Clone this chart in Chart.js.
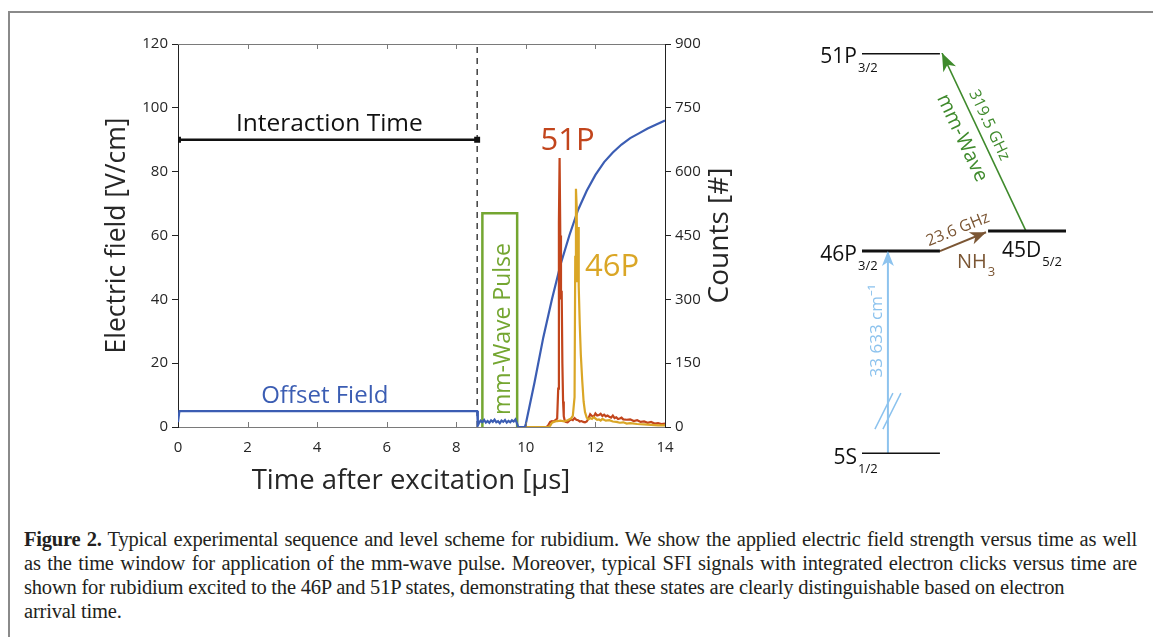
<!DOCTYPE html>
<html>
<head>
<meta charset="utf-8">
<script src="https://cdn.jsdelivr.net/npm/chart.js@4.4.1/dist/chart.umd.min.js"></script>
<style>
  body { margin: 0; background: #fff; width: 1153px; height: 637px; overflow: hidden; position: relative; }
  #frame { position: absolute; left: 8px; top: 11px; width: 1200px; height: 700px; border-top: 2px solid #8a8a8a; border-left: 2px solid #8a8a8a; }
  #seq { position: absolute; left: 0; top: 0; }
  #levels { position: absolute; left: 780px; top: 0; }
  #caption { position: absolute; left: 24px; top: 527px; width: 1113px; font-family: "Liberation Serif", serif; font-size: 20.5px; line-height: 24px; color: #231f20; letter-spacing: -0.2px; }
  #caption div { white-space: nowrap; }
  #caption .j { text-align: justify; text-align-last: justify; white-space: normal; }
</style>
</head>
<body>
<div id="frame"></div>
<canvas id="seq" width="780" height="520"></canvas>
<canvas id="levels" width="373" height="520"></canvas>
<div id="caption">
  <div class="j"><b>Figure 2.</b> Typical experimental sequence and level scheme for rubidium. We show the applied electric field strength versus time as well</div>
  <div class="j">as the time window for application of the mm-wave pulse. Moreover, typical SFI signals with integrated electron clicks versus time are</div>
  <div>shown for rubidium excited to the 46P and 51P states, demonstrating that these states are clearly distinguishable based on electron</div>
  <div>arrival time.</div>
</div>
<script>
// ---- data ----
// electric field (V/cm): offset field, noise while the pulse is on, then the SFI ramp
const fieldT = [0, 0.04, 8.6, 8.62, 8.65, 8.7, 8.75, 8.8, 8.85, 8.9, 8.95, 9.0, 9.05, 9.1, 9.15, 9.2, 9.25, 9.3, 9.35, 9.4,
  9.45, 9.5, 9.55, 9.6, 9.65, 9.7, 9.75, 9.78, 9.97, 10.0, 10.25, 10.5, 10.75, 11.0, 11.25, 11.5, 11.75, 12.0, 12.25,
  12.5, 12.75, 13.0, 13.25, 13.5, 13.75, 14.0];
const fieldV = [1.5, 5, 5, 0.5, 1.2, 2.0, 1.5, 2.2, 1.4, 1.9, 1.3, 2.1, 1.6, 2.3, 1.5, 1.8, 1.2, 2.0, 1.6, 2.2,
  1.4, 1.9, 1.5, 2.1, 1.7, 2.4, 1.0, 0, 0, 1, 14, 28, 40, 51, 60, 68, 74, 79, 83,
  86, 88.5, 90.5, 92, 93.5, 94.8, 96];

// interaction time bar and mm-wave pulse window
const interactT = [0, 8.6];
const interactV = [90, 90];
const pulseT = [8.75, 8.75, 9.75, 9.75];
const pulseV = [0, 67, 67, 0];
const markerT = 8.6;

// SFI counts for 51P
const p51T = [10.0, 10.6, 10.65, 10.7, 10.75, 10.8, 10.85, 10.9, 10.93, 10.95, 10.97, 10.99, 11.01, 11.03, 11.05, 11.07,
  11.09, 11.12, 11.15, 11.2, 11.25, 11.3, 11.35, 11.4, 11.45, 11.5, 11.55, 11.6, 11.65, 11.7, 11.75, 11.8, 11.85,
  11.9, 11.95, 12.0, 12.05, 12.1, 12.15, 12.2, 12.25, 12.3, 12.35, 12.4, 12.45, 12.5, 12.55, 12.6, 12.65, 12.7,
  12.75, 12.8, 12.9, 13.0, 13.1, 13.2, 13.3, 13.4, 13.5, 13.6, 13.7, 13.8, 13.9, 14.0];
const p51V = [0, 0, 5, 12, 14, 13, 16, 20, 90, 480, 632, 450, 300, 320, 150, 60,
  25, 14, 12, 11, 15, 18, 16, 21, 17, 16, 13, 14, 12, 11, 13, 20, 30,
  26, 24, 32, 27, 28, 31, 26, 29, 25, 27, 24, 22, 27, 21, 23, 19, 20,
  22, 18, 17, 18, 14, 16, 12, 13, 10, 12, 8, 9, 7, 8];

// SFI counts for 46P
const p46T = [10.0, 10.65, 10.7, 10.75, 10.8, 10.9, 11.0, 11.1, 11.2, 11.3, 11.35, 11.4, 11.42, 11.44, 11.46, 11.48,
  11.5, 11.52, 11.55, 11.58, 11.62, 11.66, 11.7, 11.75, 11.8, 11.85, 11.9, 11.95, 12.0, 12.05, 12.1, 12.15, 12.2,
  12.3, 12.4, 12.5, 12.6, 12.7, 12.8, 12.9, 13.0, 13.2, 13.4, 13.6, 13.8, 14.0];
const p46V = [0, 0, 3, 10, 12, 14, 15, 13, 16, 20, 26, 70, 400, 560, 520, 340,
  470, 330, 240, 170, 110, 60, 35, 22, 18, 21, 19, 23, 20, 17, 18, 15, 19,
  15, 16, 13, 12, 10, 11, 8, 9, 7, 6, 5, 4, 4];

// level scheme (arbitrary energy axis, not to scale)
const levelNames = ['5S', '46P', '45D', '51P'];
const levelSubs = ['1/2', '3/2', '5/2', '3/2'];
const levelE = [0, 5.06, 5.56, 10];
const levelX0 = [0, 0, 6.18, 0];
const levelX1 = [3.82, 3.82, 10, 3.82];

// transitions: [x0, e0, x1, e1]
const laserLine = [1.27, 0, 1.27, 5.06];
const nh3Line = [3.82, 5.06, 6.08, 5.53];
const mmLine = [8.04, 5.56, 3.92, 10];

const FONT = "'Open Sans', 'Noto Sans', sans-serif";
const BLUE = '#3b5db3', RED = '#c2451c', YELLOW = '#daa626', GREEN = '#74a631';

function pts(xs, ys) {
  return xs.map((v, i) => ({ x: v, y: ys[i] }));
}

function drawText(ctx, s, x, y, color, size, align, rot) {
  ctx.save();
  ctx.translate(x, y);
  if (rot) ctx.rotate(rot);
  ctx.fillStyle = color;
  ctx.font = size + 'px ' + FONT;
  ctx.textAlign = align || 'center';
  ctx.textBaseline = 'middle';
  ctx.fillText(s, 0, 0);
  ctx.restore();
}

// 축 상단 테두리, 안쪽 눈금, 주석 텍스트
const seqDecor = {
  id: 'seqDecor',
  afterDatasetsDraw(chart) {
    const { ctx, chartArea: a, scales: { x, y, y1 } } = chart;
    ctx.save();
    ctx.strokeStyle = '#7a7a7a';
    ctx.lineWidth = 1;
    ctx.beginPath();
    ctx.moveTo(a.left, a.top + 0.5);
    ctx.lineTo(a.right, a.top + 0.5);
    x.ticks.forEach(t => {
      if (t.value <= 0 || t.value >= 14) return;
      const px = Math.round(x.getPixelForValue(t.value)) + 0.5;
      ctx.moveTo(px, a.bottom);
      ctx.lineTo(px, a.bottom - 5);
      ctx.moveTo(px, a.top);
      ctx.lineTo(px, a.top + 5);
    });
    ctx.stroke();
    ctx.restore();

    drawText(ctx, 'Interaction Time', x.getPixelForValue(4.35), y.getPixelForValue(94.8), '#111', 24.5);
    drawText(ctx, 'Offset Field', x.getPixelForValue(4.22), y.getPixelForValue(9.7), BLUE, 24);
    drawText(ctx, 'mm-Wave Pulse', x.getPixelForValue(9.35), y.getPixelForValue(30.7), GREEN, 23, 'center', -Math.PI / 2);
    drawText(ctx, '51P', x.getPixelForValue(11.2), y1.getPixelForValue(672), RED, 31);
    drawText(ctx, '46P', x.getPixelForValue(12.48), y1.getPixelForValue(376), YELLOW, 31);
    drawText(ctx, 'Counts [#]', 720, (a.top + a.bottom) / 2, '#262626', 28, 'center', -Math.PI / 2);
    drawText(ctx, 'Time after excitation [µs]', a.left + 233, 481, '#262626', 27.5);
  }
};

new Chart(document.getElementById('seq'), {
  type: 'scatter',
  data: {
    datasets: [
      { data: pts(p46T, p46V), yAxisID: 'y1', borderColor: YELLOW, borderWidth: 2.2, showLine: true, pointRadius: 0, order: 0 },
      { data: pts(p51T, p51V), yAxisID: 'y1', borderColor: RED, borderWidth: 2.2, showLine: true, pointRadius: 0, order: 1 },
      { data: pts(fieldT, fieldV), yAxisID: 'y', borderColor: BLUE, borderWidth: 2.2, showLine: true, pointRadius: 0, order: 2 },
      { data: pts(pulseT, pulseV), yAxisID: 'y', borderColor: GREEN, borderWidth: 2.5, showLine: true, pointRadius: 0, order: 3 },
      { data: pts(interactT, interactV), yAxisID: 'y', borderColor: '#111', backgroundColor: '#111', borderWidth: 2.4,
        showLine: true, pointRadius: 2.5, pointStyle: 'rect', order: 4 },
      { data: pts([markerT, markerT], [0, 120]), yAxisID: 'y', borderColor: '#111', borderWidth: 1.2, borderDash: [6, 5],
        showLine: true, pointRadius: 0, order: 5 }
    ]
  },
  options: {
    responsive: false,
    animation: false,
    layout: { padding: { top: 44, right: 0, bottom: 0, left: 0 } },
    plugins: { legend: { display: false }, tooltip: { enabled: false } },
    scales: {
      x: {
        type: 'linear', min: 0, max: 14,
        ticks: { stepSize: 2, padding: 12, color: '#262626', font: { family: FONT, size: 15 } },
        grid: { display: false, drawTicks: false },
        border: { color: '#7a7a7a', width: 1 },
        afterFit(s) { s.height = 93; }
      },
      y: {
        position: 'left', min: 0, max: 120,
        ticks: { stepSize: 20, padding: 4, color: '#262626', font: { family: FONT, size: 15 } },
        grid: { drawOnChartArea: false, tickLength: 6, color: '#222' },
        border: { color: '#222', width: 1 },
        title: { display: true, text: 'Electric field [V/cm]', color: '#262626', font: { family: FONT, size: 26.5 }, padding: { top: 102, bottom: 0 } },
        afterFit(s) { s.width = 178; }
      },
      y1: {
        position: 'right', min: 0, max: 900,
        ticks: { stepSize: 150, padding: 4, color: '#262626', font: { family: FONT, size: 15 } },
        grid: { drawOnChartArea: false, tickLength: 6, color: '#222' },
        border: { color: '#222', width: 1 },
        afterFit(s) { s.width = 115; }
      }
    }
  },
  plugins: [seqDecor]
});

// ---- level scheme ----
function arrowHead(ctx, x0, y0, x1, y1, color, len, half) {
  const ang = Math.atan2(y1 - y0, x1 - x0);
  ctx.save();
  ctx.translate(x1, y1);
  ctx.rotate(ang);
  ctx.fillStyle = color;
  ctx.beginPath();
  ctx.moveTo(0, 0);
  ctx.lineTo(-len, -half);
  ctx.lineTo(-len * 0.72, 0);
  ctx.lineTo(-len, half);
  ctx.closePath();
  ctx.fill();
  ctx.restore();
}

function subLabel(ctx, main, sub, x, y, color, size, subSize, align, subDy) {
  ctx.save();
  ctx.font = size + 'px ' + FONT;
  const w = ctx.measureText(main).width;
  const left = align === 'right' ? x - w : x;
  drawText(ctx, main, left, y, color, size, 'left');
  drawText(ctx, sub, left + w + 1, y + subDy, color, subSize, 'left');
  ctx.restore();
}

const LASER = '#8dc3ee', NH3C = '#7b5634', MMC = '#3f8a2c';

const levelDecor = {
  id: 'levelDecor',
  afterDatasetsDraw(chart) {
    const { ctx, scales: { x, y } } = chart;
    const P = (xx, ee) => [x.getPixelForValue(xx), y.getPixelForValue(ee)];

    // 화살표 머리
    const heads = [[laserLine, LASER, 15, 6], [nh3Line, NH3C, 16, 6.5], [mmLine, MMC, 18, 7]];
    heads.forEach(([l, c, len, half]) => {
      const [ax, ay] = P(l[0], l[1]);
      const [bx, by] = P(l[2], l[3]);
      arrowHead(ctx, ax, ay, bx, by, c, len, half);
    });

    // 레이저 화살표의 생략 표시 (//)
    const [lx, sy] = P(laserLine[0], 1.07);
    ctx.save();
    ctx.strokeStyle = LASER;
    ctx.lineWidth = 1.5;
    ctx.beginPath();
    [-4, 4].forEach(dx => {
      ctx.moveTo(lx + dx - 9, sy + 18);
      ctx.lineTo(lx + dx + 9, sy - 18);
    });
    ctx.stroke();
    ctx.restore();

    // 준위 이름
    levelNames.forEach((n, i) => {
      if (levelX0[i] > 0) {
        const [px, py] = P(levelX0[i] + 0.68, levelE[i]);
        subLabel(ctx, n, levelSubs[i], px, py + 20, '#111', 21, 13, 'left', 11);
      } else {
        const [px, py] = P(levelX0[i], levelE[i]);
        subLabel(ctx, n, levelSubs[i], px - 5, py + 4, '#111', 21, 13, 'right', 11);
      }
    });

    // 전이 라벨
    const mmAng = Math.atan2(y.getPixelForValue(mmLine[1]) - y.getPixelForValue(mmLine[3]),
      x.getPixelForValue(mmLine[0]) - x.getPixelForValue(mmLine[2]));
    const [gx, gy] = P(6.23, 8.2);
    drawText(ctx, '319.5 GHz', gx, gy, MMC, 16, 'center', mmAng);
    const [mx, my] = P(4.9, 7.88);
    drawText(ctx, 'mm-Wave', mx, my, MMC, 20, 'center', mmAng);

    const nhAng = Math.atan2(y.getPixelForValue(nh3Line[3]) - y.getPixelForValue(nh3Line[1]),
      x.getPixelForValue(nh3Line[2]) - x.getPixelForValue(nh3Line[0]));
    const [bxm, bym] = P(4.7, 5.45);
    drawText(ctx, '23.6 GHz', bxm, bym - 6, NH3C, 16, 'center', nhAng);
    const [nx, ny] = P(4.66, 5.06);
    subLabel(ctx, 'NH', '3', nx, ny + 11, NH3C, 20, 13, 'left', 10);

    const [cx, cy] = P(laserLine[0], 3.07);
    drawText(ctx, '33 633 cm⁻¹', cx - 11, cy, LASER, 17, 'center', -Math.PI / 2);
  }
};

const levelSets = levelNames.map((n, i) => ({
  data: pts([levelX0[i], levelX1[i]], [levelE[i], levelE[i]]),
  borderColor: '#111', borderWidth: 3, showLine: true, pointRadius: 0
}));
const lineSet = (l, c, w) => ({
  data: pts([l[0], l[2]], [l[1], l[3]]), borderColor: c, borderWidth: w, showLine: true, pointRadius: 0
});

new Chart(document.getElementById('levels'), {
  type: 'scatter',
  data: { datasets: [...levelSets, lineSet(laserLine, LASER, 2), lineSet(nh3Line, NH3C, 2), lineSet(mmLine, MMC, 1.6)] },
  options: {
    responsive: false,
    animation: false,
    layout: { padding: { top: 53, bottom: 66, left: 82, right: 87 } },
    plugins: { legend: { display: false }, tooltip: { enabled: false } },
    scales: {
      x: { type: 'linear', min: 0, max: 10, display: false },
      y: { type: 'linear', min: 0, max: 10, display: false }
    }
  },
  plugins: [levelDecor]
});
</script>
</body>
</html>
